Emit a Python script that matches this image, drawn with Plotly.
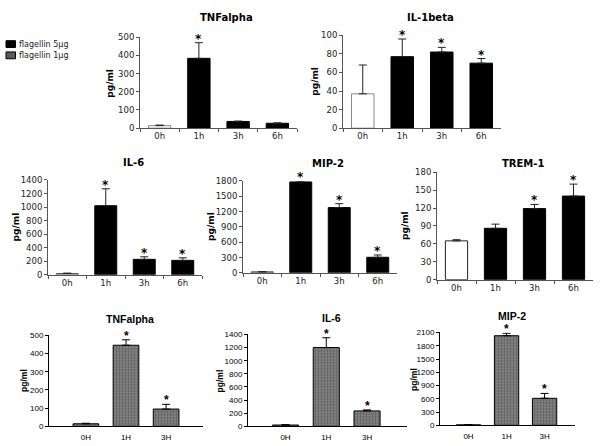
import plotly.graph_objects as go

# ---------------- data ----------------
top_cats = ["0h", "1h", "3h", "6h"]
bot_cats = ["0H", "1H", "3H"]

tnf_top_vals = [14, 384, 37, 27]
tnf_top_err = [3, 86, 2, 2]
tnf_top_sig = [False, True, False, False]

il1b_vals = [37, 77, 82, 70]
il1b_err = [31, 19, 5, 5]
il1b_sig = [False, True, True, True]

il6_top_vals = [19, 1020, 228, 213]
il6_top_err = [6, 250, 38, 38]
il6_top_sig = [False, True, True, True]

mip2_top_vals = [19, 1780, 1278, 305]
mip2_top_err = [3, 20, 77, 45]
mip2_top_sig = [False, True, True, True]

trem1_vals = [65, 86, 119, 140]
trem1_err = [2, 7, 7, 20]
trem1_sig = [False, False, True, True]

tnf_bot_vals = [14, 446, 95]
tnf_bot_err = [3, 30, 26]
tnf_bot_sig = [False, True, True]

il6_bot_vals = [20, 1200, 235]
il6_bot_err = [5, 150, 15]
il6_bot_sig = [False, True, True]

mip2_bot_vals = [12, 2027, 612]
mip2_bot_err = [5, 55, 110]
mip2_bot_sig = [False, True, True]

legend_labels = ["flagellin 5\u03bcg", "flagellin 1\u03bcg"]

# ---------------- layout helpers ----------------
W, H = 600, 446
TOPFONT = "DejaVu Sans"
BOTFONT = "Liberation Sans, Arial"

def px_x(p):
    return p / W

def px_y(p):
    return 1 - p / H

panels = [
    dict(title="TNFalpha", cats=top_cats, vals=tnf_top_vals, err=tnf_top_err, sig=tnf_top_sig,
         ymax=500, dtick=100, xpx=(140, 297), ypx=(33, 126), xr=[-0.5, 3.5], style="top",
         first_line="#888", title_y=13, ylab_x=110),
    dict(title="IL-1beta", cats=top_cats, vals=il1b_vals, err=il1b_err, sig=il1b_sig,
         ymax=100, dtick=20, xpx=(343, 501), ypx=(31, 126), xr=[-0.5, 3.5], style="top",
         first_line="#888", title_y=13, ylab_x=315),
    dict(title="IL-6", cats=top_cats, vals=il6_top_vals, err=il6_top_err, sig=il6_top_sig,
         ymax=1400, dtick=200, xpx=(48, 202), ypx=(179, 276), xr=[-0.5, 3.5], style="top",
         first_line="#555", title_y=161, ylab_x=16),
    dict(title="MIP-2", cats=top_cats, vals=mip2_top_vals, err=mip2_top_err, sig=mip2_top_sig,
         ymax=1800, dtick=300, xpx=(243, 397), ypx=(180, 274), xr=[-0.5, 3.5], style="top",
         first_line="#333", title_y=162, ylab_x=211),
    dict(title="TREM-1", cats=top_cats, vals=trem1_vals, err=trem1_err, sig=trem1_sig,
         ymax=180, dtick=30, xpx=(437, 593), ypx=(171, 281), xr=[-0.5, 3.5], style="top",
         first_line="#222", title_y=162, ylab_x=405),
    dict(title="TNFalpha", cats=bot_cats, vals=tnf_bot_vals, err=tnf_bot_err, sig=tnf_bot_sig,
         ymax=500, dtick=100, xpx=(49, 203), ypx=(338, 431), xr=[-0.92, 2.92], style="bot",
         title_y=321, ylab_x=24),
    dict(title="IL-6", cats=bot_cats, vals=il6_bot_vals, err=il6_bot_err, sig=il6_bot_sig,
         ymax=1400, dtick=200, xpx=(248, 407), ypx=(337, 431), xr=[-0.92, 2.98], style="bot",
         title_y=320, ylab_x=220),
    dict(title="MIP-2", cats=bot_cats, vals=mip2_bot_vals, err=mip2_bot_err, sig=mip2_bot_sig,
         ymax=2100, dtick=300, xpx=(440, 575), ypx=(335, 430), xr=[-0.75, 2.8], style="bot",
         title_y=318, ylab_x=414),
]

fig = go.Figure()
annotations = []
shapes = []

for i, p in enumerate(panels, start=1):
    xa = "x" if i == 1 else f"x{i}"
    ya = "y" if i == 1 else f"y{i}"
    top = p["style"] == "top"
    font = TOPFONT if top else BOTFONT
    n = len(p["cats"])
    if top:
        colors = ["white"] + ["black"] * (n - 1)
        lines = [p["first_line"]] + ["black"] * (n - 1)
        marker = dict(color=colors, line=dict(color=lines, width=1))
        bargap = 0.43
    else:
        marker = dict(color="#808080", line=dict(color="black", width=1),
                      pattern=dict(shape=".", fgcolor="#2e2e2e", bgcolor="#8e8e8e",
                                   size=3, solidity=0.5))
        bargap = 0.36
    fig.add_trace(go.Bar(
        x=p["cats"], y=p["vals"], xaxis=xa, yaxis=ya, marker=marker,
        width=1 - bargap, showlegend=False, hoverinfo="skip",
        error_y=dict(type="data", array=p["err"], arrayminus=[0] * n, symmetric=False,
                     color="#222" if top else "black", thickness=1, width=4),
    ))
    axis_color = "#555" if top else "black"
    xkey = "xaxis" if i == 1 else f"xaxis{i}"
    ykey = "yaxis" if i == 1 else f"yaxis{i}"
    tfs = 8.5 if top else 8
    fig.layout[xkey] = dict(
        domain=[px_x(p["xpx"][0]), px_x(p["xpx"][1])], anchor=ya, type="category",
        range=p["xr"], showline=True, linecolor=axis_color, linewidth=1,
        ticks="outside" if top else "", tickson="boundaries", ticklen=3, tickcolor=axis_color,
        ticklabelstandoff=0 if top else 3,
        showgrid=False, zeroline=False, fixedrange=True,
        tickfont=dict(family=font, size=tfs, color="#222" if top else "black"),
    )
    fig.layout[ykey] = dict(
        domain=[px_y(p["ypx"][1]), px_y(p["ypx"][0])], anchor=xa,
        range=[0, p["ymax"]], dtick=p["dtick"], tick0=0,
        showline=True, linecolor=axis_color, linewidth=1,
        ticks="outside", ticklen=3, tickcolor=axis_color,
        showgrid=False, zeroline=False, fixedrange=True,
        tickfont=dict(family=font, size=tfs, color="#222" if top else "black"),
    )
    cx = (p["xpx"][0] + p["xpx"][1]) / 2 + (8 if top else 4)
    annotations.append(dict(
        text=f"<b>{p['title']}</b>", xref="paper", yref="paper",
        x=px_x(cx), y=px_y(p["title_y"]), xanchor="center", yanchor="middle",
        showarrow=False, font=dict(family=font, size=10 if top else 10.5, color="black"),
    ))
    cy = (p["ypx"][0] + p["ypx"][1]) / 2
    annotations.append(dict(
        text="<b>pg/ml</b>", xref="paper", yref="paper", textangle=-90,
        x=px_x(p["ylab_x"]), y=px_y(cy), xanchor="center", yanchor="middle",
        showarrow=False, font=dict(family=font, size=9 if top else 8.5, color="black"),
    ))
    for c, v, e, s in zip(p["cats"], p["vals"], p["err"], p["sig"]):
        if s:
            annotations.append(dict(
                text="<b>*</b>", x=c, y=v + e, xref=xa, yref=ya, xanchor="center",
                yanchor="bottom", yshift=-5, showarrow=False,
                font=dict(family=font, size=12, color="black"),
            ))

leg_colors = ["black", "#5a5a5a"]
for k, (lab, col) in enumerate(zip(legend_labels, leg_colors)):
    yc = 40 + 11.5 * k
    shapes.append(dict(type="rect", xref="paper", yref="paper",
                       x0=px_x(6), x1=px_x(15.5), y0=px_y(yc + 3.5), y1=px_y(yc - 3.5),
                       fillcolor=col, line=dict(color="black", width=1)))
    annotations.append(dict(text=lab, xref="paper", yref="paper", x=px_x(17), y=px_y(yc),
                            xanchor="left", yanchor="middle", showarrow=False,
                            font=dict(family=TOPFONT, size=8, color="#222")))

fig.update_layout(
    width=W, height=H, margin=dict(l=0, r=0, t=0, b=0),
    paper_bgcolor="white", plot_bgcolor="white",
    annotations=annotations, shapes=shapes, showlegend=False,
)

fig.write_html("out.html", config={"displayModeBar": False},
               post_script="document.body.style.margin='0';document.body.style.padding='0';")
